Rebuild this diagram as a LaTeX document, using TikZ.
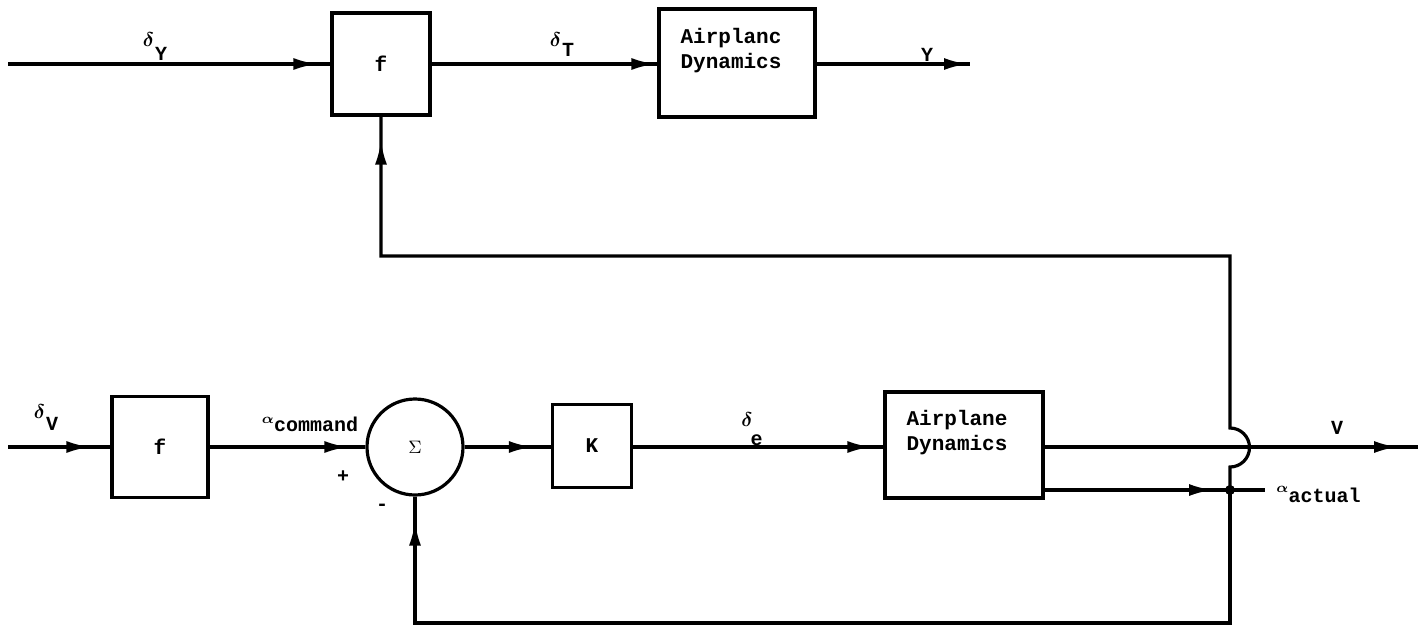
\documentclass[tikz,border=0pt]{standalone}
\usepackage{fontspec}
\setmonofont{Liberation Mono}
\usetikzlibrary{arrows.meta,decorations.markings}
\begin{document}
\begin{tikzpicture}[x=0.5pt,y=-0.5pt,
  sig/.style={line width=1.6pt},
  tipat/.style={postaction={decorate},decoration={markings,mark=at position #1 with {\arrow{Latex[length=12pt,width=6pt]}}}},
  blk/.style={draw,line width=1.6pt,inner sep=0pt,font=\fontsize{10.5pt}{12pt}\selectfont\ttfamily\bfseries},
  txt/.style={inner sep=0pt,font=\fontsize{10.5pt}{12.5pt}\selectfont\ttfamily\bfseries,align=center},
  lab/.style={inner sep=0pt,font=\fontsize{10pt}{12pt}\selectfont\ttfamily\bfseries\boldmath}]
\useasboundingbox (0,0) rectangle (1428,627);

% top row
\node[blk,minimum width=49pt,minimum height=51pt] (f1) at (381,64) {f};
\node[blk,minimum width=78pt,minimum height=54pt] (ap1) at (737,63) {};
\node[txt] (ap1t) at (731,51) {Airplanc\\Dynamics};
\coordinate (inY) at (8,64);
\coordinate (outY) at (970,64);
\draw[sig,tipat=-6.5pt] (inY) -- (f1.west);
\draw[sig,tipat=-1pt] (f1.east) -- (ap1.west |- f1.east);
\draw[sig,tipat=-1pt] (ap1.east |- f1.east) -- (outY);

% bottom row
\node[blk,minimum width=48pt,minimum height=50.5pt] (f2) at (160,447) {f};
\node[draw,circle,line width=1.6pt,minimum size=48pt,inner sep=0pt] (sum) at (415,447) {\small$\Sigma$};
\node[blk,minimum width=39.5pt,minimum height=41.5pt] (K) at (592,446) {K};
\node[blk,minimum width=79pt,minimum height=53pt] (ap2) at (964,445) {};
\node[txt] (ap2t) at (957,433) {Airplane\\Dynamics};
\coordinate (inV) at (8,447);
\coordinate (outV) at (1418,447);
\coordinate (jn) at (1230,490);
\coordinate (aend) at (1265,490);
\draw[sig,tipat=-10pt] (inV) -- (f2.west |- inV);
\draw[sig,tipat=-8.5pt] (f2.east |- inV) -- (sum.west);
\draw[sig,tipat=-9pt] (sum.east) -- (K.west |- inV);
\draw[sig,tipat=-6pt] (K.east |- inV) -- (ap2.west |- inV);
\draw[sig,tipat=-10pt] (ap2.east |- inV) -- (outV);
\draw[sig,tipat=-8.5pt] (ap2.east |- jn) -- (jn);
\draw[sig] (jn) -- (aend);
\fill (jn) circle[radius=5];

% feedback paths
\draw[sig,tipat=-12pt] (jn) -- (1230,467) arc[start angle=90,end angle=-90,radius=19.5] -- (1230,256) -| (f1.south);
\draw[sig,tipat=-12.5pt] (jn) -- (1230,623) -| (sum.south);

% labels
\node[lab] (lY) at (155,47) {$\delta$\kern0.5pt\raisebox{-7pt}{Y}};
\node[lab] (lT) at (562,45) {$\delta$\kern0.5pt\raisebox{-5pt}{T}};
\node[lab] (lYo) at (927,55) {Y};
\node[lab] (lV) at (46,418) {$\delta$\kern0.5pt\raisebox{-6pt}{V}};
\node[lab] (lc) at (310,424) {\raisebox{4pt}{$\scriptstyle\alpha$}command};
\node[lab] (le) at (752,429) {$\delta$\kern-1pt\raisebox{-9.5pt}{e}};
\node[lab] (lVo) at (1337,428) {V};
\node[lab,anchor=west] (la) at (1276,494) {\raisebox{5pt}{$\scriptstyle\alpha$}actual};
\node[lab] (lp) at (343,477) {+};
\node[lab] (lm) at (382,507) {-};
\end{tikzpicture}
\end{document}
